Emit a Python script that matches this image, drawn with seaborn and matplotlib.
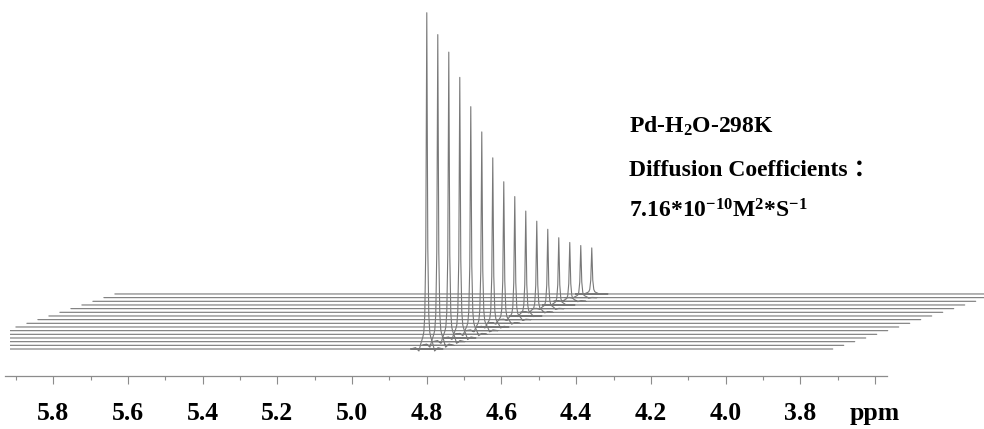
import numpy as np
import pandas as pd
import matplotlib
matplotlib.use("Agg")
import matplotlib.pyplot as plt
import seaborn as sns
from matplotlib.ticker import FixedLocator, FixedFormatter

# ---------------- data ----------------
peak_ppm = 4.80
# relative peak intensity of each gradient step (front trace first)
peak_heights = [1.000, 0.924, 0.861, 0.775, 0.677, 0.591, 0.503, 0.421,
                0.366, 0.312, 0.271, 0.236, 0.200, 0.175, 0.155, 0.137]
# spectral window of every trace (ppm)
spec_start = 6.077
spec_end = 3.713
# line shape of the water signal: ppm offsets from the peak and relative height
shape_offsets = [-0.043, -0.030, -0.021, -0.016, -0.0107, -0.008, -0.0054, -0.0027, 0.0,
                 0.0027, 0.0054, 0.008, 0.0107, 0.016, 0.021, 0.030, 0.043]
shape_rel = [0.0, 0.004, -0.006, 0.016, 0.035, 0.05, 0.10, 0.30, 1.0,
             0.30, 0.10, 0.05, 0.035, 0.016, -0.006, 0.004, 0.0]

tick_values = [5.8, 5.6, 5.4, 5.2, 5.0, 4.8, 4.6, 4.4, 4.2, 4.0, 3.8, 3.6]
tick_labels = ["5.8", "5.6", "5.4", "5.2", "5.0", "4.8", "4.6", "4.4", "4.2", "4.0", "3.8", "ppm"]
minor_values = [5.9, 5.7, 5.5, 5.3, 5.1, 4.9, 4.7, 4.5, 4.3, 4.1, 3.9, 3.7]

title_line = "Pd-H$_2$O-298K"
coef_line = "Diffusion Coefficients ："
value_line = "7.16*10$^{-10}$M$^2$*S$^{-1}$"

# ---------------- layout (stacking offsets) ----------------
dx_step = 0.02945   # ppm shift per trace
dy_step = 0.01091   # intensity shift per trace

rows = []
for i, h in enumerate(peak_heights):
    xs = [spec_start] + [peak_ppm + o for o in shape_offsets] + [spec_end]
    ys = [0.0] + [h * r for r in shape_rel] + [0.0]
    for x, y in zip(xs, ys):
        rows.append({"trace": i, "ppm": x - dx_step * i, "intensity": y + dy_step * i})
df = pd.DataFrame(rows)

sns.set_style("white")
plt.rcParams["font.family"] = ["Liberation Serif", "Noto Sans CJK SC"]
plt.rcParams["font.weight"] = "bold"
plt.rcParams["text.color"] = "black"
plt.rcParams["mathtext.fontset"] = "custom"
plt.rcParams["mathtext.rm"] = "Liberation Serif:bold"
plt.rcParams["mathtext.bf"] = "Liberation Serif:bold"
plt.rcParams["mathtext.it"] = "Liberation Serif:bold"
plt.rcParams["mathtext.default"] = "rm"

W, H = 984, 429
fig = plt.figure(figsize=(W / 100, H / 100), dpi=100)
ax = fig.add_axes([10 / W, 0, (W - 10) / W, 1])

line_color = "#787878"
sns.lineplot(data=df, x="ppm", y="intensity", units="trace", estimator=None,
             sort=False, color=line_color, lw=0.8, ax=ax, legend=False)

ax.set_xlim(5.916, 3.308)
ax.set_ylim(-0.2379, 1.0378)
ax.set_xlabel("")
ax.set_ylabel("")
ax.set_yticks([])
for s in ["top", "right", "left"]:
    ax.spines[s].set_visible(False)
ax.spines["bottom"].set_position(("data", -0.0803))
ax.spines["bottom"].set_bounds(5.93, 3.568)
ax.spines["bottom"].set_color("#8c8c8c")
ax.spines["bottom"].set_linewidth(0.9)

ax.xaxis.set_major_locator(FixedLocator(tick_values))
ax.xaxis.set_major_formatter(FixedFormatter(tick_labels))
ax.xaxis.set_minor_locator(FixedLocator(minor_values))
ax.tick_params(axis="x", which="both", bottom=True)
ax.tick_params(axis="x", which="major", direction="out", length=6, width=0.8,
               color="#8c8c8c", pad=13, labelsize=18.5, labelcolor="black")
ax.tick_params(axis="x", which="minor", direction="out", length=3, width=0.8,
               color="#8c8c8c")
for lbl in ax.get_xticklabels():
    lbl.set_fontweight("bold")

tx = 629 / W
fig.text(tx, 1 - 133 / H, title_line, fontsize=17, fontweight="bold", va="baseline", color="black")
fig.text(tx, 1 - 176 / H, coef_line, fontsize=17, fontweight="bold", va="baseline", color="black")
fig.text(tx, 1 - 217 / H, value_line, fontsize=17, fontweight="bold", va="baseline", color="black")

fig.savefig("out.png", dpi=100)
